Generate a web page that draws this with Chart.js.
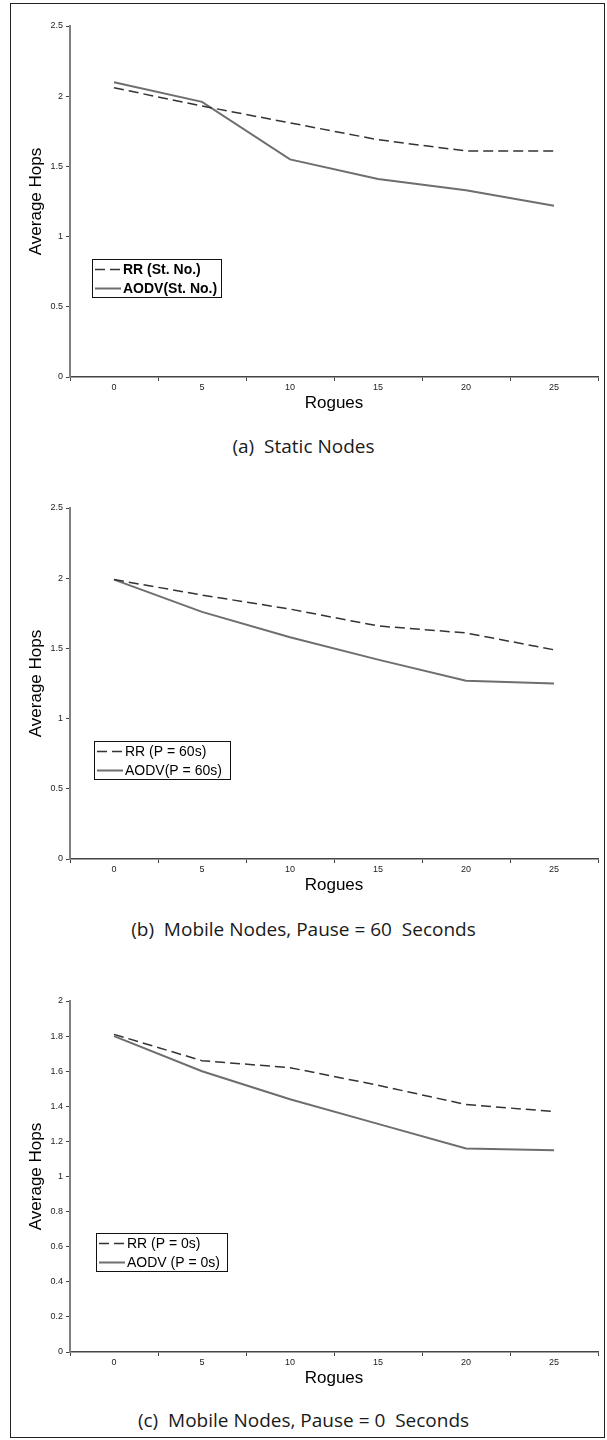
<!DOCTYPE html>
<html>
<head>
<meta charset="utf-8">
<script src="https://cdn.jsdelivr.net/npm/chart.js@4"></script>
<style>
  body { margin: 0; background: #fff; width: 607px; height: 1440px; position: relative; overflow: hidden; }
  .frame { position: absolute; left: 10px; top: 3px; width: 593px; height: 1433px; border: 1px solid #222; }
  canvas { position: absolute; left: 0; }
  .cap { position: absolute; left: 0; width: 607px; text-align: center; font: 19px "Open Sans", sans-serif;
         line-height: 20px; color: #1a1a1a; white-space: pre; }
</style>
</head>
<body>
<div class="frame"></div>
<canvas id="chartA" width="607" height="420" style="top:0px"></canvas>
<div class="cap" style="top:436px">(a)  Static Nodes</div>
<canvas id="chartB" width="607" height="420" style="top:482px"></canvas>
<div class="cap" style="top:919px">(b)  Mobile Nodes, Pause = 60  Seconds</div>
<canvas id="chartC" width="607" height="420" style="top:975px"></canvas>
<div class="cap" style="top:1410px">(c)  Mobile Nodes, Pause = 0  Seconds</div>
<script>
const rogues = ['0', '5', '10', '15', '20', '25'];

const rrStatic = [2.06, 1.93, 1.81, 1.69, 1.61, 1.61];
const aodvStatic = [2.10, 1.96, 1.55, 1.41, 1.33, 1.22];

const rrPause60 = [1.99, 1.88, 1.78, 1.66, 1.61, 1.49];
const aodvPause60 = [1.99, 1.76, 1.58, 1.42, 1.27, 1.25];

const rrPause0 = [1.81, 1.66, 1.62, 1.52, 1.41, 1.37];
const aodvPause0 = [1.80, 1.60, 1.44, 1.30, 1.16, 1.15];

const yTicksHalf = ['0', '0.5', '1', '1.5', '2', '2.5'];
const yTicksFifth = ['0', '0.2', '0.4', '0.6', '0.8', '1', '1.2', '1.4', '1.6', '1.8', '2'];

const FONT = '"Liberation Sans", Arial, sans-serif';

// legend drawn as a boxed key inside the plot, like the original figure
const boxLegend = {
  id: 'boxLegend',
  afterDraw(chart, args, opts) {
    const ctx = chart.ctx;
    ctx.save();
    ctx.fillStyle = '#fff';
    ctx.fillRect(opts.x, opts.y, opts.w, opts.h);
    ctx.strokeStyle = '#111';
    ctx.lineWidth = 1;
    ctx.strokeRect(opts.x + 0.5, opts.y + 0.5, opts.w, opts.h);
    ctx.font = (opts.bold ? 'bold ' : '') + '14px ' + FONT;
    ctx.textBaseline = 'middle';
    chart.data.datasets.forEach((ds, i) => {
      const cy = opts.y + 10.5 + i * 19;
      ctx.strokeStyle = ds.borderColor;
      ctx.lineWidth = ds.borderWidth;
      ctx.setLineDash(ds.borderDash || []);
      ctx.beginPath();
      ctx.moveTo(opts.x + 3, cy);
      ctx.lineTo(opts.x + 29, cy);
      ctx.stroke();
      ctx.setLineDash([]);
      ctx.fillStyle = '#000';
      ctx.fillText(ds.label, opts.x + 31, cy + 1);
    });
    ctx.restore();
  }
};

function hopsChart({elementName, rr, aodv, rrLabel, aodvLabel, yTicks, yStep, legend}) {
  const element = document.getElementById(elementName);
  const yMax = +yTicks[yTicks.length - 1];
  new Chart(element, {
    type: 'line',
    data: {
      labels: rogues,
      datasets: [{
        label: rrLabel,
        data: rr,
        borderColor: '#333',
        borderWidth: 1.5,
        borderDash: [10, 5],
        pointRadius: 0,
      }, {
        label: aodvLabel,
        data: aodv,
        borderColor: '#6e6e6e',
        borderWidth: 2,
        pointRadius: 0,
      }]
    },
    options: {
      responsive: false,
      devicePixelRatio: 1,
      animation: false,
      layout: {padding: {top: 26, right: 9, left: 0, bottom: 0}},
      scales: {
        x: {
          offset: true,
          grid: {offset: true, drawOnChartArea: false, tickLength: 4, color: '#444'},
          border: {color: '#444', width: 1.5},
          ticks: {font: {size: 9, family: FONT}, color: '#222', padding: 1, maxRotation: 0, autoSkip: false},
          title: {display: true, text: 'Rogues', font: {size: 17, family: FONT}, color: '#000',
                  padding: {top: 0, bottom: 6}},
          afterFit: s => { s.height = 43; }
        },
        y: {
          min: 0,
          max: yMax,
          ticks: {
            stepSize: yStep,
            font: {size: 9, family: FONT},
            color: '#222',
            padding: 3,
            callback: (v, i) => yTicks[i]
          },
          grid: {drawOnChartArea: false, tickLength: 4, color: '#444'},
          border: {color: '#808080', width: 2},
          title: {display: true, text: 'Average Hops', font: {size: 17, family: FONT}, color: '#000',
                  padding: {top: 26, bottom: 0}},
          afterFit: s => { s.width = 70; }
        }
      },
      plugins: {
        legend: {display: false},
        tooltip: {enabled: false},
        boxLegend: legend
      }
    },
    plugins: [boxLegend]
  });
}

hopsChart({
  elementName: 'chartA', rr: rrStatic, aodv: aodvStatic,
  rrLabel: 'RR (St. No.)', aodvLabel: 'AODV(St. No.)',
  yTicks: yTicksHalf, yStep: 0.5,
  legend: {x: 92, y: 259, w: 129, h: 38, bold: true}
});

hopsChart({
  elementName: 'chartB', rr: rrPause60, aodv: aodvPause60,
  rrLabel: 'RR (P = 60s)', aodvLabel: 'AODV(P = 60s)',
  yTicks: yTicksHalf, yStep: 0.5,
  legend: {x: 94, y: 259, w: 136, h: 38, bold: false}
});

hopsChart({
  elementName: 'chartC', rr: rrPause0, aodv: aodvPause0,
  rrLabel: 'RR (P = 0s)', aodvLabel: 'AODV (P = 0s)',
  yTicks: yTicksFifth, yStep: 0.2,
  legend: {x: 96, y: 258, w: 131, h: 38, bold: false}
});
</script>
</body>
</html>
